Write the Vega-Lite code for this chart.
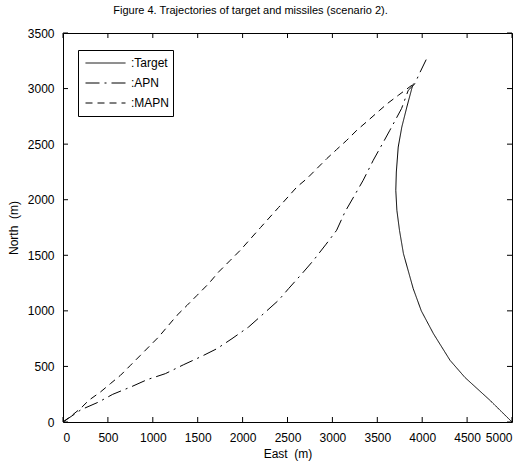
{
  "$schema": "https://vega.github.io/schema/vega-lite/v6.json",
  "width": 449,
  "height": 389,
  "autosize": {"type": "none"},
  "padding": {"left": 63, "top": 33, "right": 16, "bottom": 41},
  "background": "white",
  "title": {
    "text": "Figure 4. Trajectories of target and missiles (scenario 2).",
    "font": "Liberation Sans",
    "fontSize": 11,
    "fontWeight": "normal",
    "anchor": "middle",
    "dx": -37,
    "offset": 11,
    "color": "black"
  },
  "config": {
    "view": {"stroke": "black", "strokeWidth": 1},
    "axis": {
      "domain": false,
      "ticks": false,
      "labelColor": "black",
      "titleColor": "black",
      "labelFont": "Liberation Sans",
      "titleFont": "Liberation Sans",
      "labelFontSize": 12,
      "titleFontSize": 12,
      "titleFontWeight": "normal",
      "grid": false,
      "format": "d"
    },
    "legend": {
      "labelFont": "Liberation Sans",
      "labelFontSize": 12,
      "labelColor": "black"
    }
  },
  "datasets": {
    "xticks": [
      {"v": 0}, {"v": 500}, {"v": 1000}, {"v": 1500}, {"v": 2000}, {"v": 2500},
      {"v": 3000}, {"v": 3500}, {"v": 4000}, {"v": 4500}, {"v": 5000}
    ],
    "yticks": [
      {"v": 0}, {"v": 500}, {"v": 1000}, {"v": 1500}, {"v": 2000}, {"v": 2500},
      {"v": 3000}, {"v": 3500}
    ],
    "traj": [
      {"s": ":Target", "i": 0, "x": 5000, "y": 0},
      {"s": ":Target", "i": 1, "x": 4755, "y": 195},
      {"s": ":Target", "i": 2, "x": 4477, "y": 400},
      {"s": ":Target", "i": 3, "x": 4310, "y": 555},
      {"s": ":Target", "i": 4, "x": 4125, "y": 795},
      {"s": ":Target", "i": 5, "x": 3990, "y": 1000},
      {"s": ":Target", "i": 6, "x": 3900, "y": 1200},
      {"s": ":Target", "i": 7, "x": 3791, "y": 1515},
      {"s": ":Target", "i": 8, "x": 3747, "y": 1725},
      {"s": ":Target", "i": 9, "x": 3718, "y": 1905},
      {"s": ":Target", "i": 10, "x": 3706, "y": 2085},
      {"s": ":Target", "i": 11, "x": 3712, "y": 2250},
      {"s": ":Target", "i": 12, "x": 3733, "y": 2474},
      {"s": ":Target", "i": 13, "x": 3773, "y": 2654},
      {"s": ":Target", "i": 14, "x": 3829, "y": 2834},
      {"s": ":Target", "i": 15, "x": 3884, "y": 3000},
      {"s": ":Target", "i": 16, "x": 3902, "y": 3045},
      {"s": ":APN", "i": 0, "x": 0, "y": 0},
      {"s": ":APN", "i": 1, "x": 100, "y": 55},
      {"s": ":APN", "i": 2, "x": 200, "y": 110},
      {"s": ":APN", "i": 3, "x": 398, "y": 180},
      {"s": ":APN", "i": 4, "x": 554, "y": 249},
      {"s": ":APN", "i": 5, "x": 769, "y": 320},
      {"s": ":APN", "i": 6, "x": 937, "y": 381},
      {"s": ":APN", "i": 7, "x": 1140, "y": 435},
      {"s": ":APN", "i": 8, "x": 1344, "y": 516},
      {"s": ":APN", "i": 9, "x": 1529, "y": 585},
      {"s": ":APN", "i": 10, "x": 1715, "y": 660},
      {"s": ":APN", "i": 11, "x": 1882, "y": 750},
      {"s": ":APN", "i": 12, "x": 2067, "y": 855},
      {"s": ":APN", "i": 13, "x": 2234, "y": 975},
      {"s": ":APN", "i": 14, "x": 2400, "y": 1095},
      {"s": ":APN", "i": 15, "x": 2512, "y": 1200},
      {"s": ":APN", "i": 16, "x": 2678, "y": 1350},
      {"s": ":APN", "i": 17, "x": 2790, "y": 1455},
      {"s": ":APN", "i": 18, "x": 2930, "y": 1600},
      {"s": ":APN", "i": 19, "x": 3047, "y": 1725},
      {"s": ":APN", "i": 20, "x": 3140, "y": 1890},
      {"s": ":APN", "i": 21, "x": 3240, "y": 2030},
      {"s": ":APN", "i": 22, "x": 3343, "y": 2175},
      {"s": ":APN", "i": 23, "x": 3455, "y": 2355},
      {"s": ":APN", "i": 24, "x": 3555, "y": 2500},
      {"s": ":APN", "i": 25, "x": 3640, "y": 2625},
      {"s": ":APN", "i": 26, "x": 3770, "y": 2820},
      {"s": ":APN", "i": 27, "x": 3845, "y": 2985},
      {"s": ":APN", "i": 28, "x": 3920, "y": 3045},
      {"s": ":APN", "i": 29, "x": 3960, "y": 3120},
      {"s": ":APN", "i": 30, "x": 4050, "y": 3270},
      {"s": ":MAPN", "i": 0, "x": 0, "y": 0},
      {"s": ":MAPN", "i": 1, "x": 100, "y": 60},
      {"s": ":MAPN", "i": 2, "x": 200, "y": 125},
      {"s": ":MAPN", "i": 3, "x": 287, "y": 195},
      {"s": ":MAPN", "i": 4, "x": 417, "y": 270},
      {"s": ":MAPN", "i": 5, "x": 528, "y": 345},
      {"s": ":MAPN", "i": 6, "x": 640, "y": 420},
      {"s": ":MAPN", "i": 7, "x": 751, "y": 510},
      {"s": ":MAPN", "i": 8, "x": 862, "y": 600},
      {"s": ":MAPN", "i": 9, "x": 954, "y": 675},
      {"s": ":MAPN", "i": 10, "x": 1065, "y": 765},
      {"s": ":MAPN", "i": 11, "x": 1159, "y": 855},
      {"s": ":MAPN", "i": 12, "x": 1270, "y": 960},
      {"s": ":MAPN", "i": 13, "x": 1382, "y": 1050},
      {"s": ":MAPN", "i": 14, "x": 1493, "y": 1140},
      {"s": ":MAPN", "i": 15, "x": 1622, "y": 1245},
      {"s": ":MAPN", "i": 16, "x": 1733, "y": 1350},
      {"s": ":MAPN", "i": 17, "x": 1863, "y": 1455},
      {"s": ":MAPN", "i": 18, "x": 1974, "y": 1545},
      {"s": ":MAPN", "i": 19, "x": 2200, "y": 1750},
      {"s": ":MAPN", "i": 20, "x": 2400, "y": 1930},
      {"s": ":MAPN", "i": 21, "x": 2605, "y": 2115},
      {"s": ":MAPN", "i": 22, "x": 2716, "y": 2190},
      {"s": ":MAPN", "i": 23, "x": 2827, "y": 2280},
      {"s": ":MAPN", "i": 24, "x": 2938, "y": 2370},
      {"s": ":MAPN", "i": 25, "x": 3045, "y": 2450},
      {"s": ":MAPN", "i": 26, "x": 3160, "y": 2535},
      {"s": ":MAPN", "i": 27, "x": 3272, "y": 2625},
      {"s": ":MAPN", "i": 28, "x": 3401, "y": 2715},
      {"s": ":MAPN", "i": 29, "x": 3520, "y": 2800},
      {"s": ":MAPN", "i": 30, "x": 3620, "y": 2870},
      {"s": ":MAPN", "i": 31, "x": 3735, "y": 2940},
      {"s": ":MAPN", "i": 32, "x": 3885, "y": 3030}
    ]
  },
  "layer": [
    {
      "data": {"name": "xticks"},
      "mark": {"type": "point", "shape": "M0,-1L0,0", "size": 100, "filled": false, "stroke": "black", "strokeWidth": 1, "opacity": 1},
      "encoding": {
        "x": {"field": "v", "type": "quantitative"},
        "y": {"datum": 0, "type": "quantitative"}
      }
    },
    {
      "data": {"name": "xticks"},
      "mark": {"type": "point", "shape": "M0,0L0,1", "size": 100, "filled": false, "stroke": "black", "strokeWidth": 1, "opacity": 1},
      "encoding": {
        "x": {"field": "v", "type": "quantitative"},
        "y": {"datum": 3500, "type": "quantitative"}
      }
    },
    {
      "data": {"name": "yticks"},
      "mark": {"type": "point", "shape": "M0,0L1,0", "size": 100, "filled": false, "stroke": "black", "strokeWidth": 1, "opacity": 1},
      "encoding": {
        "y": {"field": "v", "type": "quantitative"},
        "x": {"datum": 0, "type": "quantitative"}
      }
    },
    {
      "data": {"name": "yticks"},
      "mark": {"type": "point", "shape": "M-1,0L0,0", "size": 100, "filled": false, "stroke": "black", "strokeWidth": 1, "opacity": 1},
      "encoding": {
        "y": {"field": "v", "type": "quantitative"},
        "x": {"datum": 5000, "type": "quantitative"}
      }
    },
    {
      "data": {"name": "traj"},
      "mark": {"type": "line", "color": "black", "strokeWidth": 1, "clip": true},
      "encoding": {
        "x": {
          "field": "x", "type": "quantitative",
          "scale": {"domain": [0, 5000], "nice": false, "zero": false},
          "axis": {
            "orient": "bottom",
            "values": [0, 500, 1000, 1500, 2000, 2500, 3000, 3500, 4000, 4500, 5000],
            "labelPadding": 10,
            "title": "East \u00a0(m)",
            "titlePadding": 5
          }
        },
        "y": {
          "field": "y", "type": "quantitative",
          "scale": {"domain": [0, 3500], "nice": false, "zero": false},
          "axis": {
            "orient": "left",
            "values": [0, 500, 1000, 1500, 2000, 2500, 3000, 3500],
            "labelPadding": 9,
            "title": "North \u00a0(m)",
            "titlePadding": 7
          }
        },
        "order": {"field": "i", "type": "quantitative"},
        "strokeDash": {
          "field": "s", "type": "nominal",
          "scale": {
            "domain": [":Target", ":APN", ":MAPN"],
            "range": [[1, 0], [14, 5, 2, 5], [7, 5]]
          },
          "legend": {
            "title": null,
            "orient": "none",
            "legendX": 15,
            "legendY": 17,
            "strokeColor": "black",
            "fillColor": "white",
            "padding": 3,
            "clipHeight": 20,
            "symbolType": "stroke",
            "symbolSize": 1600,
            "symbolStrokeWidth": 1,
            "symbolStrokeColor": "black",
            "symbolOffset": 4,
            "rowPadding": 0,
            "labelOffset": 5,
            "labelExpr": "datum.label + '\u00a0'"
          }
        }
      }
    }
  ]
}
